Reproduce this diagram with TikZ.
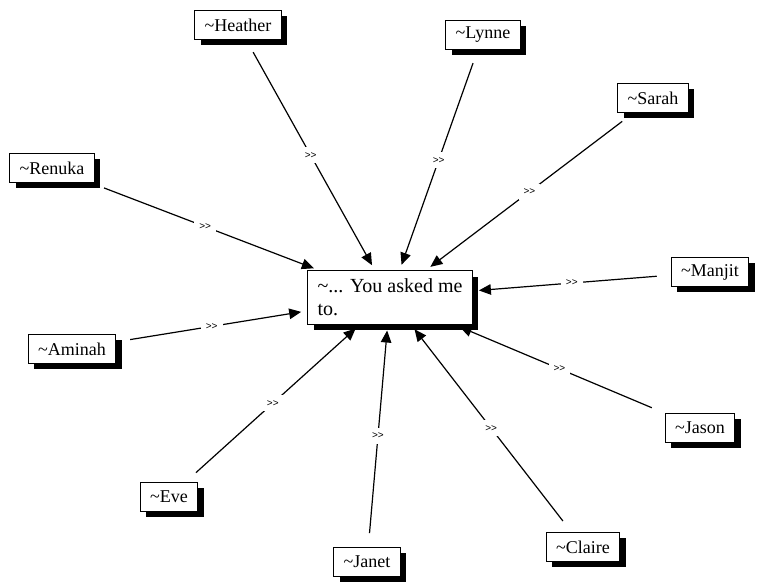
\documentclass[tikz,border=0pt]{standalone}
\usepackage{fontspec}
\setmainfont{Liberation Serif}
\newfontfamily\labelfont{Liberation Sans}
\usetikzlibrary{shadows,arrows.meta}

\tikzset{
  boxshadow/.style={drop shadow={shadow xshift=6pt, shadow yshift=-6pt, fill=black, opacity=1}},
  person/.style={draw=black, line width=0.9pt, fill=white, boxshadow,
    font=\fontsize{18}{21}\selectfont, inner xsep=10pt, inner ysep=0pt,
    minimum height=29pt},
  hub/.style={draw=black, line width=0.9pt, fill=white, boxshadow, align=left,
    font=\fontsize{20}{23}\selectfont, inner xsep=10pt, inner ysep=8pt},
  link/.style={line width=1.2pt, -{Triangle[length=12pt,width=10.5pt]},
    shorten >=6pt, shorten <=14pt},
  tag/.style={fill=white, inner sep=5pt, font=\labelfont\fontsize{10}{10}\selectfont}
}

\begin{document}
\begin{tikzpicture}[x=1pt,y=1pt]
  \useasboundingbox (0,0) rectangle (759,585);

  % central statement
  \node[hub] (hub) at (390,287.5) {\textasciitilde... You asked me\\to.};

  % people around it
  \node[person] (heather) at (238,560) {\textasciitilde Heather};
  \node[person] (lynne)   at (483,550) {\textasciitilde Lynne};
  \node[person] (sarah)   at (653,487) {\textasciitilde Sarah};
  \node[person] (renuka)  at (52,417)  {\textasciitilde Renuka};
  \node[person] (manjit)  at (710,313) {\textasciitilde Manjit};
  \node[person] (aminah)  at (72,236)  {\textasciitilde Aminah};
  \node[person] (jason)   at (700,157) {\textasciitilde Jason};
  \node[person] (eve)     at (169,88)  {\textasciitilde Eve};
  \node[person] (janet)   at (367,23)  {\textasciitilde Janet};
  \node[person] (claire)  at (583,38)  {\textasciitilde Claire};

  % connectors
  \foreach \p in {heather,lynne,sarah,renuka,manjit,aminah,jason,eve,janet,claire}
    \draw[link] (\p) -- node[tag] {>>} (hub);
\end{tikzpicture}
\end{document}
